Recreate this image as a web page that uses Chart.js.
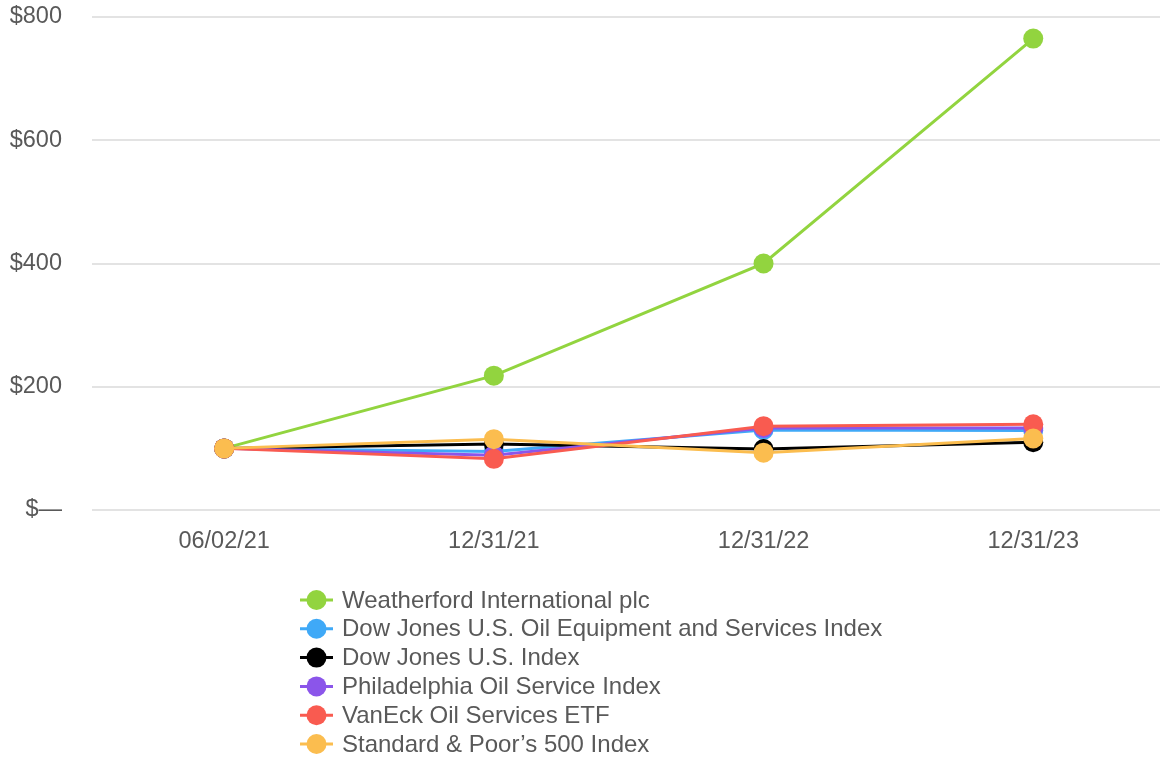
<!DOCTYPE html>
<html>
<head>
<meta charset="utf-8">
<script src="https://cdn.jsdelivr.net/npm/chart.js@4"></script>
<style>
	body { margin: 0; background: #fff; }
	#wrap { width: 1160px; height: 760px; position: relative; }
</style>
</head>
<body>
<div id="wrap"><canvas id="tsrChart"></canvas></div>
<script>
// Categories (measurement dates)
let dates = ['06/02/21', '12/31/21', '12/31/22', '12/31/23'];

// Series values
let weatherford = [100, 218, 400, 765];
let djOilEquip = [100, 95, 130, 129];
let djUS = [100, 107, 99, 110];
let phlxOil = [100, 89, 133, 133];
let vanEck = [100, 83, 136, 139];
let sp500 = [100, 115, 93, 116];

// Y axis ticks
let yTicks = [0, 200, 400, 600, 800];

let seriesNames = [
	'Weatherford International plc',
	'Dow Jones U.S. Oil Equipment and Services Index',
	'Dow Jones U.S. Index',
	'Philadelphia Oil Service Index',
	'VanEck Oil Services ETF',
	'Standard & Poor\u2019s 500 Index',
];
let seriesValues = [weatherford, djOilEquip, djUS, phlxOil, vanEck, sp500];
let seriesColors = ['#92d43f', '#3fa9f7', '#000000', '#8b55ea', '#f95b50', '#fbbd4f'];

let fontFamily = '"Liberation Sans", Arial, Helvetica, sans-serif';
let textColor = '#595959';

// Draws the legend as one column under the axis
let columnLegend = {
	id: 'columnLegend',
	afterDraw(chart) {
		let ctx = chart.ctx;
		let x = 300, y = 600, step = 28.8;
		ctx.save();
		ctx.font = '24px ' + fontFamily;
		ctx.textBaseline = 'middle';
		chart.data.datasets.forEach((ds, i) => {
			let cy = y + i * step;
			ctx.strokeStyle = ds.borderColor;
			ctx.lineWidth = 3;
			ctx.beginPath();
			ctx.moveTo(x, cy);
			ctx.lineTo(x + 33, cy);
			ctx.stroke();
			ctx.fillStyle = ds.borderColor;
			ctx.beginPath();
			ctx.arc(x + 16.5, cy, 10, 0, Math.PI * 2);
			ctx.fill();
			ctx.fillStyle = textColor;
			ctx.fillText(ds.label, x + 42, cy + 1);
		});
		ctx.restore();
	}
};

let datasets = seriesNames.map((name, i) => ({
	label: name,
	// x is the index into dates
	data: seriesValues[i].map((v, k) => ({ x: k, y: v })),
	borderColor: seriesColors[i],
	backgroundColor: seriesColors[i],
	pointBackgroundColor: seriesColors[i],
	pointBorderColor: seriesColors[i],
	borderWidth: 3,
	pointRadius: 10,
	pointBorderWidth: 0,
	tension: 0,
	// later series sit on top
	order: seriesNames.length - i,
}));

let chart = new Chart(document.querySelector('#tsrChart'), {
	type: 'line',
	data: { datasets: datasets },
	options: {
		responsive: true,
		maintainAspectRatio: false,
		animation: false,
		layout: { autoPadding: false, padding: { top: 17, right: 0, left: 0, bottom: 200 } },
		plugins: {
			legend: { display: false },
			tooltip: { enabled: false },
		},
		scales: {
			x: {
				type: 'linear',
				min: -0.49,
				max: 3.47,
				afterBuildTicks: (scale) => { scale.ticks = dates.map((d, k) => ({ value: k })); },
				grid: { display: false },
				border: { display: false },
				afterFit: (scale) => { scale.height = 50; },
				ticks: {
					color: textColor,
					font: { family: fontFamily, size: 23.5 },
					padding: 9,
					maxRotation: 0,
					callback: (v) => dates[v],
				},
			},
			y: {
				min: 0,
				max: 800,
				afterBuildTicks: (scale) => { scale.ticks = yTicks.map(v => ({ value: v })); },
				afterFit: (scale) => {
					scale.width = 92;
					scale.paddingTop = 0;
					scale.paddingBottom = 0;
				},
				grid: { color: '#e3e3e3', lineWidth: 2, drawTicks: false },
				border: { display: false },
				ticks: {
					color: textColor,
					font: { family: fontFamily, size: 23.5 },
					padding: 30,
					callback: (v) => v === 0 ? '$\u2014' : '$' + v,
				},
			},
		},
	},
	plugins: [columnLegend],
});
</script>
</body>
</html>
